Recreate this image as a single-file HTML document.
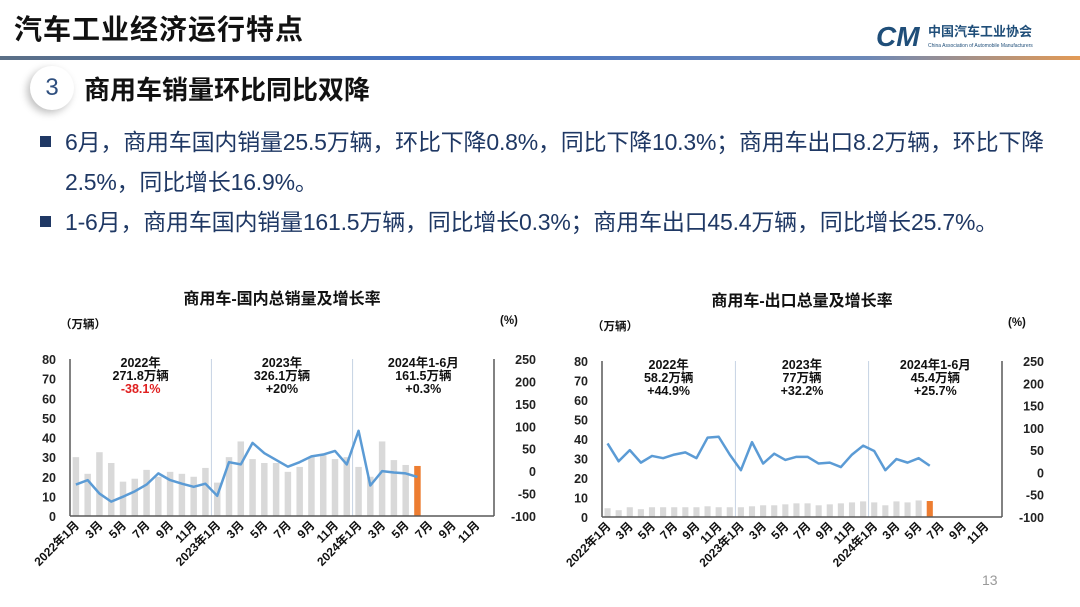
<!DOCTYPE html>
<html><head><meta charset="utf-8">
<style>
*{margin:0;padding:0;box-sizing:border-box}
body{width:1080px;height:607px;background:#fff;position:relative;overflow:hidden;font-family:"Liberation Sans","Noto Sans CJK SC",sans-serif}
.abs{position:absolute}
.title{left:14px;top:8px;font-size:28px;font-weight:bold;color:#111;letter-spacing:1px}
.bar{left:0;top:56px;width:1080px;height:4px;background:linear-gradient(90deg,#5b6f86 0%,#4472c4 40%,#6b88b8 80%,#e39a55 100%)}
.circ{left:30px;top:66px;width:44px;height:44px;border-radius:50%;background:#fff;box-shadow:-3px 3px 8px rgba(0,0,0,0.25);font-size:24px;color:#2f4f7f;text-align:center;line-height:44px}
.sub{left:84px;top:70px;font-size:26px;font-weight:bold;color:#111}
.bul{font-size:23px;color:#1f3864;line-height:40px;white-space:nowrap;letter-spacing:-0.2px}
.sq{display:inline-block;width:11px;height:11px;background:#1f3864;margin-right:14px;vertical-align:3px}
</style></head><body>
<div class="abs title">汽车工业经济运行特点</div>
<div class="abs" style="left:876px;top:20px">
<svg width="180" height="32"><text x="0" y="26" font-size="28" font-weight="bold" font-style="italic" fill="#1f4e79" font-family="Liberation Sans">CM</text><text x="52" y="16" font-size="13" font-weight="bold" fill="#1f4e79" font-family="Liberation Sans, Noto Sans CJK SC, sans-serif">中国汽车工业协会</text><text x="52" y="27" font-size="5" fill="#1f4e79" font-family="Liberation Sans">China Association of Automobile Manufacturers</text></svg></div>
<div class="abs bar"></div>
<div class="abs circ">3</div>
<div class="abs sub">商用车销量环比同比双降</div>
<div class="abs bul" style="left:40px;top:122px;width:1040px"><span class="sq"></span>6月，商用车国内销量25.5万辆，环比下降0.8%，同比下降10.3%；商用车出口8.2万辆，环比下降<br><span style="padding-left:25px">2.5%，同比增长16.9%。</span></div>
<div class="abs bul" style="left:40px;top:202px"><span class="sq"></span>1-6月，商用车国内销量161.5万辆，同比增长0.3%；商用车出口45.4万辆，同比增长25.7%。</div>

<svg class="abs" style="left:0;top:0" width="1080" height="607" id="charts"></svg>
<div class="abs" style="left:982px;top:572px;font-size:14px;color:#999">13</div>

<script>
const months=["2022年1月","","3月","","5月","","7月","","9月","","11月","","2023年1月","","3月","","5月","","7月","","9月","","11月","","2024年1月","","3月","","5月","","7月","","9月","","11月",""];
const domBars=[30,21.5,32.5,27,17.5,19,23.5,20,22.5,21.5,20,24.5,17,30,38,29,27,27,22.5,25,30,31,29,30,25,20,38,28.5,26,25.5];
const domGrowth=[-30,-20,-50,-68,-57,-45,-30,-5,-20,-28,-35,-28,-55,20,15,63,40,25,10,20,33,37,45,15,90,-32,0,-3,-5,-13];
const expBars=[4.5,3.5,5,4,5,5,5,5,5,5.5,5,5,5,5.5,6,6,6.5,7,7,6,6.5,7,7.5,8,7.5,6,8,7.5,8.5,8.2];
const expGrowth=[65,25,50,22,37,32,40,45,32,78,80,40,5,68,20,42,28,35,35,20,22,12,40,60,48,5,30,22,32,15];
const leftTicks=[0,10,20,30,40,50,60,70,80];
const rightTicks=[-100,-50,0,50,100,150,200,250];
const domNotes=[["2022年","271.8万辆","-38.1%"],["2023年","326.1万辆","+20%"],["2024年1-6月","161.5万辆","+0.3%"]];
const expNotes=[["2022年","58.2万辆","+44.9%"],["2023年","77万辆","+32.2%"],["2024年1-6月","45.4万辆","+25.7%"]];
const NS="http://www.w3.org/2000/svg";
const svg=document.getElementById('charts');
function el(tag,attrs,parent,text){const e=document.createElementNS(NS,tag);for(const k in attrs)e.setAttribute(k,attrs[k]);if(text!==undefined)e.textContent=text;(parent||svg).appendChild(e);return e;}
const F='Liberation Sans, Noto Sans CJK SC, sans-serif';
function chart(cfg){
  const g=el('g',{});
  
  
  const L=cfg.x0,R=cfg.x1,T=cfg.y0,B=cfg.y1,n=36,cw=(R-L)/n;
  const y=v=>B-(v/80)*(B-T), y2=v=>B-((v+100)/350)*(B-T), xc=i=>L+cw*(i+0.5);
  const t=el('text',{x:(L+R)/2,y:T-55,'font-size':16,'font-weight':'bold','text-anchor':'middle','font-family':F,fill:'#111'},g,cfg.title);
  
  const u1=el('text',{x:L-10,y:T-31,'font-size':11.5,'font-weight':'bold','font-family':F,fill:'#111'},g,'（万辆）');
  
  const u2=el('text',{x:R+6,y:T-35,'font-size':11.5,'font-weight':'bold','font-family':F,fill:'#111'},g,'(%)');
  
  leftTicks.forEach(v=>{const e=el('text',{x:L-14,y:y(v)+5,'font-size':12.5,'font-weight':'bold','text-anchor':'end','font-family':F,fill:'#222'},g,v);});
  rightTicks.forEach(v=>{const e=el('text',{x:R+42,y:y2(v)+5,'font-size':12.5,'font-weight':'bold','text-anchor':'end','font-family':F,fill:'#222'},g,v);});
  [12,24].forEach(i=>{const e=el('line',{x1:L+cw*i,x2:L+cw*i,y1:T,y2:B,stroke:'#b8c8dc','stroke-width':0.8},g);});
  cfg.notes.forEach((nt,k)=>{const cx=L+cw*(12*k+6);nt.forEach((s,j)=>{const e=el('text',{x:cx,y:T+8+j*13,'font-size':12.5,'font-weight':'bold','text-anchor':'middle','font-family':F,fill:(j==2&&cfg.red&&k==0)?'#e02020':'#111'},g,s);});});
  cfg.bars.forEach((v,i)=>{const last=i==cfg.bars.length-1;const bw=cw*0.55;const e=el('rect',{x:xc(i)-bw/2,y:y(v),width:bw,height:B-y(v),fill:last?'#ed7d31':'#d9d9d9'},g);});
  const p=el('polyline',{points:cfg.growth.map((v,i)=>xc(i)+','+y2(v)).join(' '),fill:'none',stroke:'#5b9bd5','stroke-width':2.5,'stroke-linejoin':'round'},g);
  
  el('line',{x1:L,x2:L,y1:T,y2:B,stroke:'#595959','stroke-width':1.5},g);
  el('line',{x1:R,x2:R,y1:T,y2:B,stroke:'#595959','stroke-width':1.5},g);
  el('line',{x1:L,x2:R,y1:B,y2:B,stroke:'#595959','stroke-width':1.5},g);
  months.forEach((m,i)=>{if(!m)return;const x=xc(i)+4,yy=B+10;const e=el('text',{x:x,y:yy,'font-size':12,'font-weight':'bold','text-anchor':'end','font-family':F,fill:'#111',transform:`rotate(-45 ${x} ${yy})`},g,m);});
}
chart({name:'domestic-sales-chart',title:'商用车-国内总销量及增长率',x0:70,x1:494,y0:359,y1:516,bars:domBars,growth:domGrowth,notes:domNotes,red:true});
chart({name:'export-sales-chart',title:'商用车-出口总量及增长率',x0:602,x1:1002,y0:361,y1:517,bars:expBars,growth:expGrowth,notes:expNotes,red:false});
</script>
</body></html>
